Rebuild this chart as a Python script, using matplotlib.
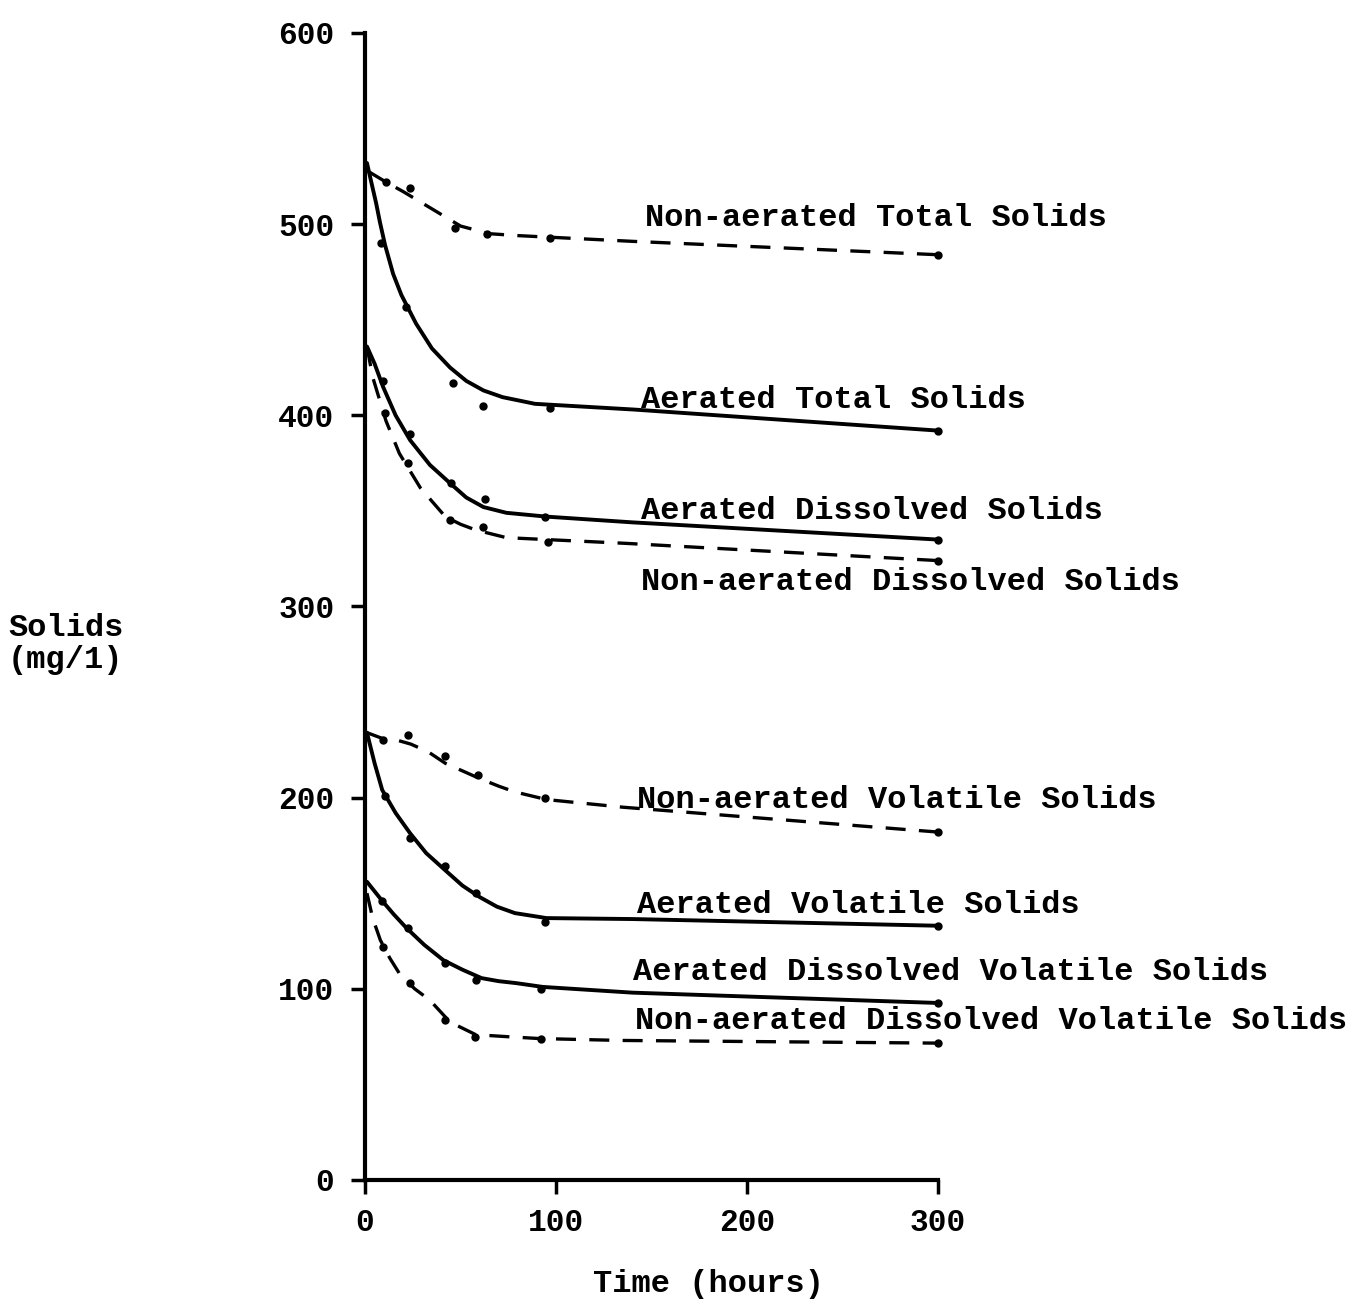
import matplotlib
matplotlib.use("Agg")
import matplotlib.pyplot as plt

plt.rcParams['font.family'] = ['Liberation Mono', 'DejaVu Sans Mono']
plt.rcParams['font.weight'] = 'bold'

# fitted curves (time in hours, solids in mg/l)
nat_t = [1, 11, 20, 30, 40, 50, 65, 80, 100, 140, 300]
nat_y = [528, 522, 517, 511, 505, 499, 495, 494, 493, 491, 484]

at_t = [1, 3.5, 5.8, 7.8, 10.5, 14.7, 19, 26.7, 35, 44.5, 53, 62, 72, 89, 141, 300]
at_y = [532, 521, 511, 501, 489, 474, 463, 448, 435, 425, 418, 413, 409.5, 406, 403, 392]

ad_t = [1, 5, 9.4, 16, 23.6, 34, 44.5, 53, 62, 74, 95, 140, 300]
ad_y = [436, 427, 415, 400, 387, 374, 364.5, 357, 352, 349, 347, 344, 335]

nad_t = [1, 4, 11, 18, 29, 42, 50, 58, 74, 95, 137, 300]
nad_y = [436, 420, 397, 380, 362, 347, 343, 340, 336, 335, 333, 324]

nav_t = [1, 9, 17, 24, 33, 42, 51, 60, 70, 78.5, 95, 135, 300]
nav_y = [234, 231, 230, 228, 224, 218, 214, 210, 206, 203, 199, 195, 182]

av_t = [1, 5, 9, 16, 23.5, 32, 42, 51, 60, 69, 78.5, 95, 140, 300]
av_y = [234, 218, 204, 192, 181.5, 171, 162, 154, 148, 143, 139.6, 137, 136.5, 133]

adv_t = [1, 9, 15, 21.5, 31, 41, 51, 61, 70, 79, 93, 140, 300]
adv_y = [156, 146, 139, 132, 123, 115, 110, 105.6, 104, 103, 101, 98, 92.6]

nadv_t = [1, 4, 8, 13, 18, 26, 34, 44.5, 58, 74, 91, 134, 300]
nadv_y = [150, 137, 125.5, 116, 108, 100, 94, 82.6, 76, 75, 74, 73, 71.6]

# observed values
nat_obs_t = [11, 23.5, 47, 64, 97, 300]
nat_obs_y = [522, 519, 498, 495, 493, 484]
at_obs_t = [8.4, 21.5, 46, 62, 97, 300]
at_obs_y = [490, 456.6, 417, 405, 404, 392]
ad_obs_t = [9.4, 23.5, 45, 63, 94, 300]
ad_obs_y = [418, 390, 364.5, 356, 347, 335]
nad_obs_t = [10.5, 22.5, 44.5, 62, 96, 300]
nad_obs_y = [401, 375, 345, 341.5, 333.7, 324]
nav_obs_t = [9.4, 22.5, 42, 59, 94, 300]
nav_obs_y = [230, 232.7, 222, 212, 200, 182]
av_obs_t = [10.5, 23.5, 42, 58, 94, 300]
av_obs_y = [201, 179, 164, 150, 135, 133]
adv_obs_t = [9, 22.5, 42, 58, 92, 300]
adv_obs_y = [146, 132, 113.5, 104.6, 100, 92.6]
nadv_obs_t = [9.4, 23.5, 42, 57.6, 92, 300]
nadv_obs_y = [122, 103, 83.7, 75, 74, 71.6]

labels = ["Non-aerated Total Solids", "Aerated Total Solids",
          "Aerated Dissolved Solids", "Non-aerated Dissolved Solids",
          "Non-aerated Volatile Solids", "Aerated Volatile Solids",
          "Aerated Dissolved Volatile Solids",
          "Non-aerated Dissolved Volatile Solids"]
label_x = [146.5, 144.5, 144.5, 144.5, 142.5, 142.5, 140.5, 141.5]
label_y = [503, 408, 350, 313, 199, 144, 109, 83]

x_ticks = [0, 100, 200, 300]
y_ticks = [0, 100, 200, 300, 400, 500, 600]

fig = plt.figure(figsize=(13.54, 13.03), dpi=100)
ax = fig.add_axes([0.2696, 0.0944, 0.4232, 0.8803])

curves = [
    (nat_t, nat_y, nat_obs_t, nat_obs_y, True),
    (at_t, at_y, at_obs_t, at_obs_y, False),
    (ad_t, ad_y, ad_obs_t, ad_obs_y, False),
    (nad_t, nad_y, nad_obs_t, nad_obs_y, True),
    (nav_t, nav_y, nav_obs_t, nav_obs_y, True),
    (av_t, av_y, av_obs_t, av_obs_y, False),
    (adv_t, adv_y, adv_obs_t, adv_obs_y, False),
    (nadv_t, nadv_y, nadv_obs_t, nadv_obs_y, True),
]
for t, y, ot, oy, dashed in curves:
    if dashed:
        ax.plot(t, y, color='black', lw=2.4, dashes=(6, 4),
                solid_joinstyle='round', clip_on=False)
    else:
        ax.plot(t, y, color='black', lw=2.8, solid_joinstyle='round',
                solid_capstyle='round', clip_on=False)
    ax.plot(ot, oy, 'o', color='black', ms=5, clip_on=False)

for lab, lx, ly in zip(labels, label_x, label_y):
    ax.text(lx, ly, lab, fontsize=23, fontweight='bold', ha='left',
            va='center', color='black')

ax.set_xlim(0, 300)
ax.set_ylim(0, 600)
ax.set_xticks(x_ticks)
ax.set_yticks(y_ticks)
ax.tick_params(axis='both', labelsize=22.5, width=2.5, length=10, color='black')
ax.tick_params(axis='y', pad=12)
ax.tick_params(axis='x', pad=10)
for lbl in ax.get_xticklabels() + ax.get_yticklabels():
    lbl.set_fontweight('bold')
for side in ['top', 'right']:
    ax.spines[side].set_visible(False)
for side in ['left', 'bottom']:
    ax.spines[side].set_linewidth(3)

fig.text(8 / 1354, 1 - 644 / 1303, "Solids\n(mg/1)", fontsize=23,
         fontweight='bold', ha='left', va='center', linespacing=1.05)
fig.text(708 / 1354, 1 - 1284 / 1303, "Time (hours)", fontsize=23,
         fontweight='bold', ha='center', va='center')

fig.savefig("out.png", dpi=100, facecolor='white')
